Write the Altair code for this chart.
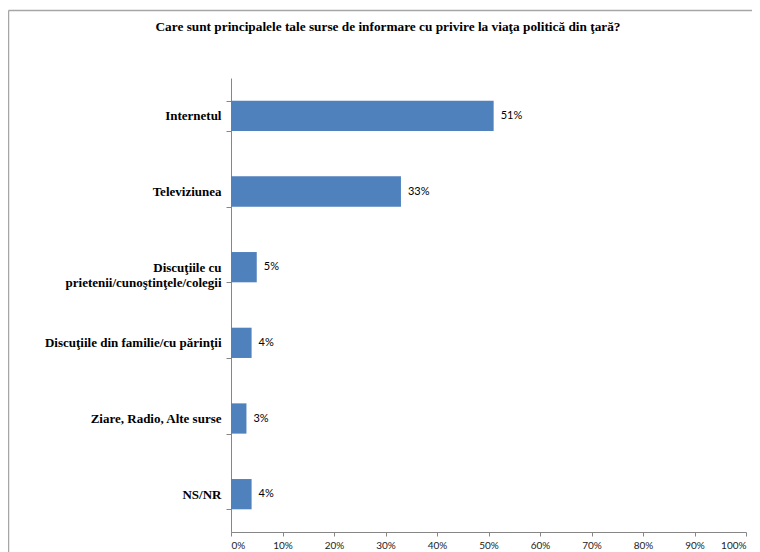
import altair as alt
import pandas as pd

categories = [
    "Internetul",
    "Televiziunea",
    "Discuţiile cu prietenii/cunoştinţele/colegii",
    "Discuţiile din familie/cu părinţii",
    "Ziare, Radio, Alte surse",
    "NS/NR",
]
values = [51, 33, 5, 4, 3, 4]
x_ticks = [0, 10, 20, 30, 40, 50, 60, 70, 80, 90, 100]
title_text = "Care sunt principalele tale surse de informare cu privire la viaţa politică din ţară?"

df = pd.DataFrame({"cat": categories, "val": values})
df["lbl"] = df["val"].astype(str) + "%"

long_cat = categories[2]
label_expr = (
    f"datum.label == '{long_cat}' ? ['Discuţiile cu', 'prietenii/cunoştinţele/colegii'] : datum.label"
)

y_enc = alt.Y(
    "cat:N",
    sort=categories,
    title=None,
    scale=alt.Scale(paddingInner=0.6, paddingOuter=0.3),
    axis=alt.Axis(
        labelFont="Liberation Serif",
        labelFontWeight="bold",
        labelFontSize=13,
        labelColor="#000000",
        labelLineHeight=15,
        labelExpr=label_expr,
        labelPadding=5,
        tickSize=5,
        tickBand="extent",
        tickColor="#868686",
        domainColor="#868686",
        labelLimit=300,
    ),
)

x_enc = alt.X(
    "val:Q",
    title=None,
    scale=alt.Scale(domain=[0, 100], nice=False),
    axis=alt.Axis(
        values=x_ticks,
        labelExpr="datum.value + '%'",
        labelFont="Lato",
        labelFontSize=10,
        labelColor="#222222",
        labelPadding=4,
        tickSize=4,
        tickColor="#868686",
        domainColor="#868686",
        grid=False,
    ),
)

bars = alt.Chart(df).mark_bar(color="#4F81BD").encode(x=x_enc, y=y_enc)

texts = alt.Chart(df).mark_text(
    align="left", baseline="middle", dx=7, font="Lato", fontSize=11, color="#000000"
).encode(x="val:Q", y=alt.Y("cat:N", sort=categories), text="lbl:N")

frame_top = alt.Chart(alt.Data(values=[{}])).mark_rule(
    stroke="#A6A6A6", strokeWidth=1.5
).encode(x=alt.value(-222.5), x2=alt.value(540), y=alt.value(-67.5))

frame_left = alt.Chart(alt.Data(values=[{}])).mark_rule(
    stroke="#A6A6A6", strokeWidth=1.5
).encode(x=alt.value(-222.5), y=alt.value(-67.5), y2=alt.value(490))

title = alt.Chart(alt.Data(values=[{"t": title_text}])).mark_text(
    font="Liberation Serif", fontSize=13.3, fontWeight="bold", color="#000000",
    align="center", baseline="middle"
).encode(x=alt.value(157), y=alt.value(-51), text="t:N")

chart = alt.layer(frame_top, frame_left, bars, texts, title).properties(
    width=515,
    height=454,
    autosize=alt.AutoSizeParams(type="none"),
    padding={"left": 223, "top": 70, "right": 6, "bottom": 20},
).configure_view(stroke=None)

chart.save("out.html", embed_options={"renderer": "svg", "actions": False})
